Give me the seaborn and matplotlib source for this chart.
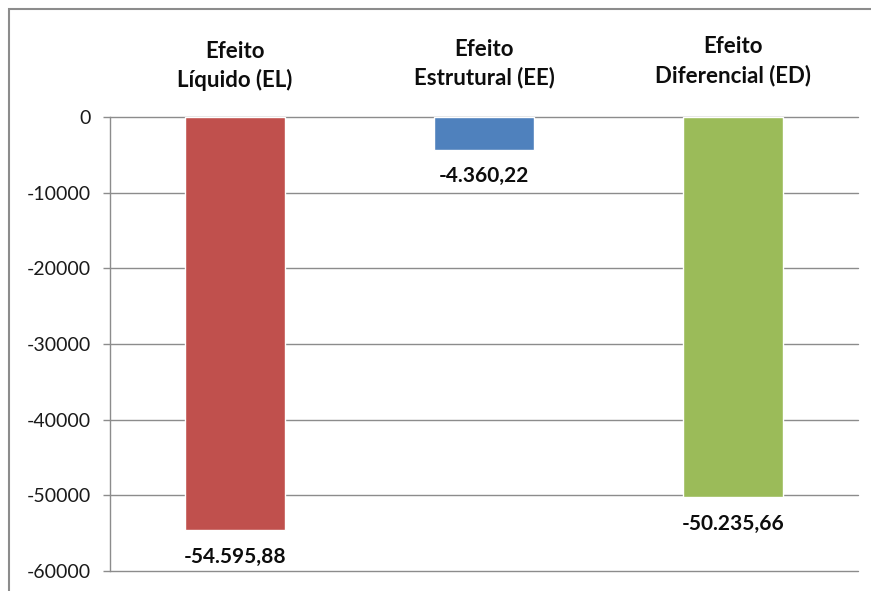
import matplotlib
matplotlib.use("Agg")
import matplotlib.pyplot as plt
import matplotlib.transforms as mtransforms
from matplotlib.patches import Rectangle
import seaborn as sns
import pandas as pd

# ---- data ----
categories = ["Efeito\nLíquido (EL)", "Efeito\nEstrutural (EE)", "Efeito\nDiferencial (ED)"]
values = [-54595.88, -4360.22, -50235.66]
colors = ["#C0504D", "#4F81BD", "#9BBB59"]
y_ticks = [0, -10000, -20000, -30000, -40000, -50000, -60000]

df = pd.DataFrame({"cat": categories, "val": values})

sns.set_theme(style="white")
plt.rcParams["font.family"] = ["Lato", "DejaVu Sans"]
plt.rcParams["axes.unicode_minus"] = False

W, H = 871, 591
fig = plt.figure(figsize=(W / 100, H / 100), dpi=100)
ax = fig.add_axes([110 / W, 1 - 571 / H, (858 - 110) / W, (571 - 117) / H])

sns.barplot(data=df, x="cat", y="val", hue="cat", palette=colors, width=0.4,
            legend=False, ax=ax, saturation=1)

ax.set_ylim(-60000, 0)
ax.set_xlim(-0.5, 2.5)
ax.set_yticks(y_ticks)
ax.set_yticklabels([str(t) for t in y_ticks])
ax.set_xlabel("")
ax.set_ylabel("")
ax.set_xticks([])

grid_c = "#8c8c8c"
ax.yaxis.grid(True, color=grid_c, linewidth=1)
for gl in ax.get_ygridlines():
    gl.set_clip_on(False)
ax.set_axisbelow(True)
for s in ["top", "right", "bottom"]:
    ax.spines[s].set_visible(False)
ax.spines["left"].set_color(grid_c)
ax.spines["left"].set_linewidth(1)
ax.tick_params(axis="y", which="major", length=5, width=1, color=grid_c,
               pad=9, labelsize=14, labelcolor="#1a1a1a", left=True)

def fmt_br(v):
    s = f"{v:,.2f}"
    return s.replace(",", "X").replace(".", ",").replace("X", ".")

for i, v in enumerate(values):
    ax.annotate(fmt_br(v), xy=(i, v), xytext=(0, -19), textcoords="offset points",
                ha="center", va="center", fontsize=15, fontweight="bold", color="#0d0d0d")

label_y = [1.112, 1.117, 1.123]
trans = mtransforms.blended_transform_factory(ax.transData, ax.transAxes)
for i, c in enumerate(categories):
    ax.text(i, label_y[i], c, transform=trans, ha="center", va="center",
            fontsize=16, fontweight="bold", color="#0d0d0d", linespacing=1.4,
            clip_on=False)

# outer chart border
fig.patches.append(Rectangle((9 / W, -0.05), 1.2, 1 - 9 / H + 0.05, transform=fig.transFigure,
                             fill=False, edgecolor="#8c8c8c", linewidth=1.5))

fig.savefig("out.png", dpi=100)
